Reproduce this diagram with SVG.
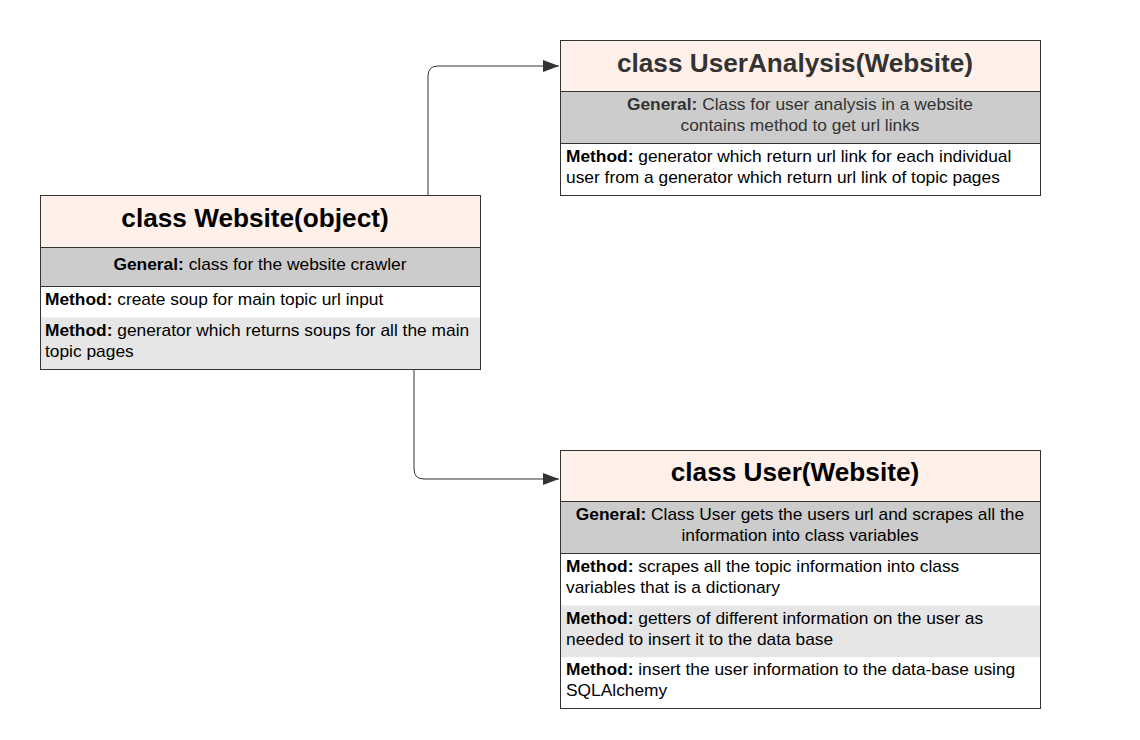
<svg xmlns="http://www.w3.org/2000/svg" width="1140" height="740" viewBox="0 0 1140 740">
<style>
.t{fill:#fff1ea;}
.g{fill:#cccccc;}
.w{fill:#ffffff;}
.l{fill:#e6e6e6;}
.sep{stroke:#333;stroke-width:1;}
text{font-family:"Liberation Sans",Arial,sans-serif;fill:#000;}
.title{font-size:26.2px;font-weight:bold;text-anchor:middle;}
.body{font-size:17.35px;}
.c{text-anchor:middle;}
.b{font-weight:bold;}
.conn{fill:none;stroke:#333;stroke-width:1;}
</style>
<defs>
<marker id="arr" markerWidth="16" markerHeight="12" refX="16" refY="6" orient="auto" markerUnits="userSpaceOnUse">
<path d="M0,0 L16,6 L0,12 Z" fill="#333"/>
</marker>
</defs>
<rect width="1140" height="740" fill="#fff"/>
<g id="connectors">
<path class="conn" d="M428,195 V76 Q428,66 438,66 H559" marker-end="url(#arr)"/>
<path class="conn" d="M414,369 V469 Q414,479 424,479 H559" marker-end="url(#arr)"/>
</g>
<g id="website">
<rect class="t" x="40.5" y="195.5" width="440" height="52"/>
<rect class="g" x="40.5" y="247.5" width="440" height="39"/>
<rect class="w" x="40.5" y="286.5" width="440" height="31"/>
<rect class="l" x="40.5" y="317.5" width="440" height="52"/>
<line class="sep" x1="40.5" y1="247.5" x2="480.5" y2="247.5"/>
<line class="sep" x1="40.5" y1="286.5" x2="480.5" y2="286.5"/>
<rect x="40.5" y="195.5" width="440" height="174" fill="none" stroke="#333"/>
<text class="title" x="255" y="227">class Website(object)</text>
<text class="body c" x="260" y="270"><tspan class="b">General:</tspan> class for the website crawler</text>
<text class="body" x="45" y="305"><tspan class="b">Method:</tspan> create soup for main topic url input</text>
<text class="body" x="45" y="336"><tspan class="b">Method:</tspan> generator which returns soups for all the main</text>
<text class="body" x="45" y="357">topic pages</text>
</g>
<g id="useranalysis">
<rect class="t" x="560.5" y="40.5" width="480" height="51"/>
<rect class="g" x="560.5" y="91.5" width="480" height="52"/>
<rect class="w" x="560.5" y="143.5" width="480" height="52"/>
<line class="sep" x1="560.5" y1="91.5" x2="1040.5" y2="91.5"/>
<line class="sep" x1="560.5" y1="143.5" x2="1040.5" y2="143.5"/>
<rect x="560.5" y="40.5" width="480" height="155" fill="none" stroke="#333"/>
<text class="title" x="795" y="72" style="fill:#333">class UserAnalysis(Website)</text>
<text class="body c" x="800" y="110" style="fill:#333"><tspan class="b">General:</tspan> Class for user analysis in a website</text>
<text class="body c" x="800" y="131" style="fill:#333">contains method to get url links</text>
<text class="body" x="566" y="162"><tspan class="b">Method:</tspan> generator which return url link for each individual</text>
<text class="body" x="566" y="183">user from a generator which return url link of topic pages</text>
</g>
<g id="user">
<rect class="t" x="560.5" y="450.5" width="480" height="51"/>
<rect class="g" x="560.5" y="501.5" width="480" height="52"/>
<rect class="w" x="560.5" y="553.5" width="480" height="52"/>
<rect class="l" x="560.5" y="605.5" width="480" height="52"/>
<rect class="w" x="560.5" y="657.5" width="480" height="51"/>
<line class="sep" x1="560.5" y1="501.5" x2="1040.5" y2="501.5"/>
<line class="sep" x1="560.5" y1="553.5" x2="1040.5" y2="553.5"/>
<rect x="560.5" y="450.5" width="480" height="258" fill="none" stroke="#333"/>
<text class="title" x="795" y="481">class User(Website)</text>
<text class="body c" x="800" y="520"><tspan class="b">General:</tspan> Class User gets the users url and scrapes all the</text>
<text class="body c" x="800" y="541">information into class variables</text>
<text class="body" x="566" y="572"><tspan class="b">Method:</tspan> scrapes all the topic information into class</text>
<text class="body" x="566" y="593">variables that is a dictionary</text>
<text class="body" x="566" y="624"><tspan class="b">Method:</tspan> getters of different information on the user as</text>
<text class="body" x="566" y="645">needed to insert it to the data base</text>
<text class="body" x="566" y="675"><tspan class="b">Method:</tspan> insert the user information to the data-base using</text>
<text class="body" x="566" y="696">SQLAlchemy</text>
</g>
</svg>
